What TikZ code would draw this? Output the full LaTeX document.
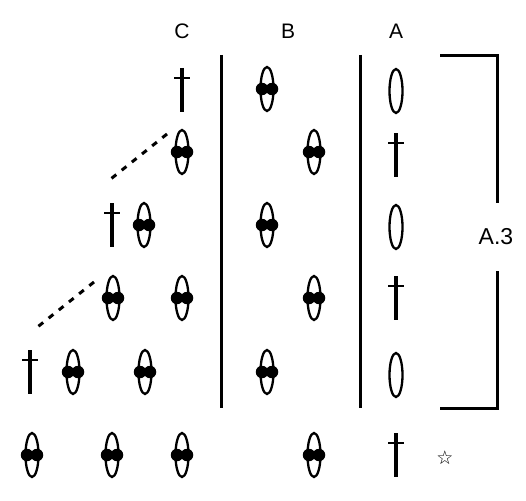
\documentclass[tikz,border=0pt]{standalone}
\usepackage{fontspec}
\setmainfont{Liberation Sans}
\newfontfamily\symfont{DejaVu Sans}
\usetikzlibrary{shapes.geometric}

\begin{document}
\begin{tikzpicture}[x=1pt, y=-1pt,
	% styles for the chart symbols
	oval/.style={ellipse, draw, line width=2.3pt, minimum width=13pt, minimum height=44pt, inner sep=0pt},
	ovaldot/.style={circle, fill, minimum size=12.5pt, inner sep=0pt},
	dagger/.style={minimum width=16pt, minimum height=44pt, inner sep=0pt,
		path picture={
			\draw[line width=3.2pt] (path picture bounding box.north) -- (path picture bounding box.south);
			\draw[line width=2.8pt] ([yshift=-10pt]path picture bounding box.north west) -- ([yshift=-10pt]path picture bounding box.north east);
		}},
	header/.style={font=\fontsize{21}{21}\selectfont},
	rule/.style={line width=3pt}
	]
	\useasboundingbox (0,0) rectangle (526,500);

	% column headers
	\node[header] (hC) at (182,31) {C};
	\node[header] (hB) at (288,31) {B};
	\node[header] (hA) at (396,31) {A};

	% bobbles: oval with two dots
	\foreach \n/\x/\y in {b1/267/89, c2/182/152, b2/314/152, c3/144/225, b3/267/225,
		c4a/113/298, c4b/182/298, b4/314/298, c5a/73/372, c5b/145/372, b5/267/372,
		c6a/32/455, c6b/112/455, c6c/182/455, b6/314/455} {
		\node[oval] (\n) at (\x,\y) {};
		\node[ovaldot] (\n l) at ([xshift=-5pt]\n.center) {};
		\node[ovaldot] (\n r) at ([xshift=5pt]\n.center) {};
	}

	% plain ovals
	\node[oval] (a1) at (396,91) {};
	\node[oval] (a3) at (396,227) {};
	\node[oval] (a5) at (396,375) {};

	% daggers
	\node[dagger] (c1) at (182,90) {};
	\node[dagger] (a2) at (396,155) {};
	\node[dagger] (c3d) at (112,225) {};
	\node[dagger] (a4) at (396,298) {};
	\node[dagger] (c5d) at (30,372) {};
	\node[dagger] (a6) at (396,455) {};

	% star
	\node[font=\symfont\fontsize{19}{19}\selectfont] (star) at (445,458) {☆};

	% column rules
	\coordinate (r1t) at (221,55);
	\coordinate (r1b) at (221,408);
	\coordinate (r2t) at (360,55);
	\coordinate (r2b) at (360,408);
	\draw[rule] (r1t) -- (r1b);
	\draw[rule] (r2t) -- (r2b);

	% bracket with label
	\node[header, font=\fontsize{23}{23}\selectfont] (rep) at (496,237) {A.3};
	\coordinate (brt) at (440,56);
	\coordinate (brb) at (440,408);
	\draw[rule] (brt) -| (497,203);
	\draw[rule] (brb) -| (497,271);

	% dashed slants
	\coordinate (d1a) at (167,134);
	\coordinate (d1b) at (107,182);
	\coordinate (d2a) at (94,282);
	\coordinate (d2b) at (35,329);
	\draw[line width=3pt, dash pattern=on 6pt off 7pt] (d1a) -- (d1b);
	\draw[line width=3pt, dash pattern=on 6pt off 7pt] (d2a) -- (d2b);
\end{tikzpicture}
\end{document}
